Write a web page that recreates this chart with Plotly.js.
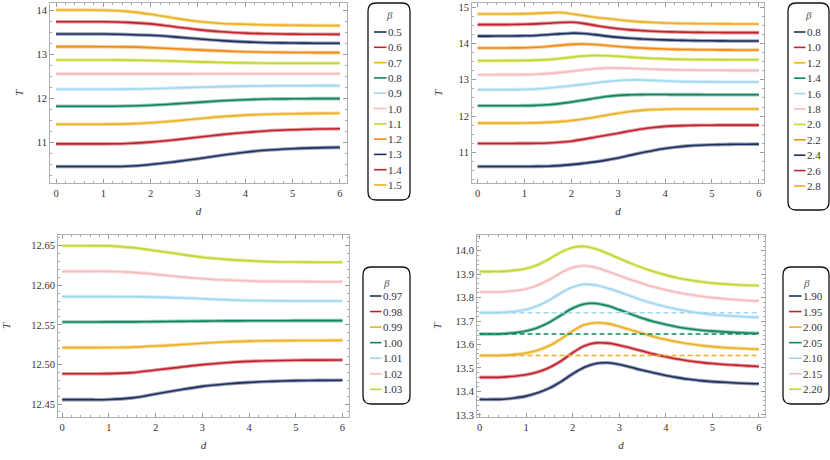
<!DOCTYPE html>
<html>
<head>
<meta charset="utf-8">
<script src="https://cdn.plot.ly/plotly-3.0.1.min.js"></script>
<style>
  html, body { margin: 0; padding: 0; background: #fff; }
  #chart { width: 830px; height: 460px; }
</style>
</head>
<body>
<div id="chart"></div>
<script>
// sample positions of d
const dCoarse = [0, 0.5, 1, 1.5, 2, 2.5, 3, 3.5, 4, 4.5, 5, 5.5, 6];
const dFine = [0, 0.25, 0.5, 0.75, 1, 1.25, 1.5, 1.75, 2, 2.25, 2.5, 2.75, 3,
               3.25, 3.5, 3.75, 4, 4.25, 4.5, 4.75, 5, 5.25, 5.5, 5.75, 6];

// panel 1 (top left)
const betaA = ['0.5', '0.6', '0.7', '0.8', '0.9', '1.0', '1.1', '1.2', '1.3', '1.4', '1.5'];
const TA = [
    [10.455, 10.455, 10.455, 10.46, 10.50, 10.56, 10.63, 10.71, 10.78, 10.83, 10.86, 10.88, 10.89],
    [10.97, 10.97, 10.97, 10.98, 11.01, 11.06, 11.12, 11.18, 11.23, 11.27, 11.29, 11.31, 11.315],
    [11.417, 11.417, 11.418, 11.425, 11.45, 11.49, 11.54, 11.59, 11.625, 11.645, 11.655, 11.663, 11.667],
    [11.826, 11.826, 11.827, 11.832, 11.85, 11.88, 11.915, 11.95, 11.975, 11.99, 11.995, 11.999, 12.0],
    [12.212, 12.212, 12.213, 12.216, 12.225, 12.24, 12.258, 12.272, 12.283, 12.29, 12.293, 12.295, 12.296],
    [12.562, 12.562, 12.562, 12.562, 12.563, 12.563, 12.564, 12.564, 12.565, 12.565, 12.565, 12.565, 12.565],
    [12.879, 12.879, 12.878, 12.875, 12.866, 12.852, 12.836, 12.822, 12.812, 12.806, 12.804, 12.803, 12.803],
    [13.182, 13.182, 13.181, 13.176, 13.16, 13.135, 13.108, 13.085, 13.066, 13.055, 13.05, 13.047, 13.046],
    [13.47, 13.47, 13.469, 13.46, 13.44, 13.405, 13.36, 13.32, 13.29, 13.272, 13.264, 13.26, 13.258],
    [13.75, 13.75, 13.748, 13.735, 13.70, 13.635, 13.57, 13.52, 13.49, 13.475, 13.467, 13.463, 13.462],
    [14.015, 14.015, 14.01, 13.985, 13.92, 13.83, 13.755, 13.71, 13.69, 13.675, 13.668, 13.663, 13.66]
];

// panel 2 (top right)
const betaB = ['0.8', '1.0', '1.2', '1.4', '1.6', '1.8', '2.0', '2.2', '2.4', '2.6', '2.8'];
const TB = [
    [10.615, 10.615, 10.615, 10.615, 10.615, 10.617, 10.622, 10.638, 10.665, 10.70, 10.74, 10.79, 10.85,
     10.92, 10.99, 11.055, 11.11, 11.15, 11.18, 11.198, 11.21, 11.218, 11.224, 11.227, 11.229],
    [11.248, 11.248, 11.248, 11.248, 11.249, 11.252, 11.26, 11.28, 11.31, 11.36, 11.42, 11.475, 11.53,
     11.59, 11.645, 11.685, 11.716, 11.732, 11.742, 11.747, 11.75, 11.751, 11.752, 11.752, 11.752],
    [11.807, 11.807, 11.807, 11.807, 11.808, 11.813, 11.826, 11.848, 11.88, 11.922, 11.97, 12.025, 12.08,
     12.125, 12.158, 12.18, 12.19, 12.194, 12.195, 12.195, 12.194, 12.194, 12.193, 12.193, 12.193],
    [12.284, 12.284, 12.284, 12.285, 12.287, 12.295, 12.31, 12.342, 12.385, 12.436, 12.49, 12.537, 12.57,
     12.585, 12.591, 12.593, 12.592, 12.591, 12.59, 12.589, 12.588, 12.588, 12.587, 12.587, 12.587],
    [12.725, 12.725, 12.726, 12.727, 12.731, 12.745, 12.77, 12.80, 12.835, 12.872, 12.91, 12.948, 12.978,
     12.993, 12.994, 12.982, 12.965, 12.953, 12.946, 12.942, 12.94, 12.938, 12.937, 12.936, 12.936],
    [13.138, 13.138, 13.139, 13.14, 13.144, 13.152, 13.168, 13.195, 13.23, 13.268, 13.30, 13.318, 13.32,
     13.313, 13.302, 13.29, 13.279, 13.271, 13.266, 13.262, 13.26, 13.259, 13.258, 13.257, 13.257],
    [13.523, 13.523, 13.524, 13.526, 13.53, 13.538, 13.553, 13.582, 13.62, 13.652, 13.665, 13.66, 13.645,
     13.622, 13.602, 13.585, 13.573, 13.564, 13.558, 13.555, 13.552, 13.551, 13.55, 13.55, 13.55],
    [13.872, 13.872, 13.873, 13.875, 13.88, 13.893, 13.915, 13.946, 13.972, 13.982, 13.968, 13.943, 13.915,
     13.89, 13.871, 13.856, 13.845, 13.836, 13.83, 13.826, 13.823, 13.821, 13.819, 13.818, 13.817],
    [14.20, 14.20, 14.201, 14.203, 14.208, 14.218, 14.236, 14.262, 14.28, 14.272, 14.24, 14.20, 14.166,
     14.14, 14.122, 14.107, 14.095, 14.085, 14.078, 14.073, 14.07, 14.068, 14.066, 14.065, 14.064],
    [14.514, 14.514, 14.515, 14.518, 14.525, 14.536, 14.552, 14.572, 14.58, 14.55, 14.495, 14.442, 14.40,
     14.37, 14.35, 14.333, 14.32, 14.311, 14.305, 14.301, 14.298, 14.296, 14.295, 14.294, 14.294],
    [14.807, 14.807, 14.808, 14.81, 14.815, 14.825, 14.838, 14.85, 14.815, 14.765, 14.72, 14.682, 14.65,
     14.615, 14.59, 14.572, 14.56, 14.551, 14.545, 14.541, 14.538, 14.536, 14.534, 14.533, 14.532]
];

// panel 3 (bottom left)
const betaC = ['0.97', '0.98', '0.99', '1.00', '1.01', '1.02', '1.03'];
const TC = [
    [12.4555, 12.4555, 12.4557, 12.4578, 12.4626, 12.4677, 12.4723, 12.4753, 12.4774, 12.4786, 12.4795, 12.4799, 12.4800],
    [12.4883, 12.4883, 12.4884, 12.4896, 12.4930, 12.4963, 12.4997, 12.5022, 12.5039, 12.5047, 12.5052, 12.5055, 12.5056],
    [12.5212, 12.5212, 12.5213, 12.5219, 12.5232, 12.5249, 12.5268, 12.5283, 12.5294, 12.5299, 12.5302, 12.5303, 12.5304],
    [12.5536, 12.5536, 12.5537, 12.5538, 12.5541, 12.5544, 12.5547, 12.5550, 12.5551, 12.5552, 12.5553, 12.5553, 12.5553],
    [12.5856, 12.5856, 12.5856, 12.5855, 12.5850, 12.5841, 12.5830, 12.5817, 12.5808, 12.5804, 12.5802, 12.5801, 12.5801],
    [12.6176, 12.6176, 12.6175, 12.6163, 12.6138, 12.6108, 12.6083, 12.6066, 12.6054, 12.6049, 12.6047, 12.6045, 12.6045],
    [12.6500, 12.6500, 12.6497, 12.6475, 12.6437, 12.6395, 12.6353, 12.6327, 12.6310, 12.6298, 12.6293, 12.6291, 12.6290]
];

// panel 4 (bottom right)
const betaD = ['1.90', '1.95', '2.00', '2.05', '2.10', '2.15', '2.20'];
const TD = [
    [13.366, 13.366, 13.367, 13.372, 13.38, 13.394, 13.414, 13.442, 13.475, 13.503, 13.519, 13.522, 13.515,
     13.503, 13.49, 13.479, 13.468, 13.459, 13.452, 13.446, 13.442, 13.439, 13.436, 13.434, 13.433],
    [13.46, 13.46, 13.461, 13.465, 13.471, 13.483, 13.502, 13.53, 13.565, 13.594, 13.607, 13.606, 13.597,
     13.585, 13.572, 13.559, 13.548, 13.538, 13.53, 13.524, 13.519, 13.515, 13.512, 13.509, 13.506],
    [13.553, 13.553, 13.554, 13.557, 13.564, 13.576, 13.595, 13.624, 13.658, 13.684, 13.693, 13.689, 13.677,
     13.662, 13.647, 13.633, 13.621, 13.611, 13.603, 13.596, 13.591, 13.587, 13.584, 13.582, 13.58],
    [13.645, 13.645, 13.646, 13.65, 13.658, 13.672, 13.695, 13.725, 13.755, 13.773, 13.775, 13.765, 13.748,
     13.73, 13.712, 13.697, 13.685, 13.675, 13.667, 13.661, 13.657, 13.654, 13.651, 13.649, 13.648],
    [13.736, 13.736, 13.737, 13.741, 13.749, 13.765, 13.79, 13.82, 13.845, 13.857, 13.853, 13.84, 13.824,
     13.806, 13.789, 13.774, 13.761, 13.75, 13.741, 13.734, 13.728, 13.724, 13.721, 13.718, 13.716],
    [13.824, 13.824, 13.825, 13.829, 13.837, 13.853, 13.877, 13.906, 13.928, 13.936, 13.928, 13.912, 13.894,
     13.876, 13.86, 13.845, 13.833, 13.822, 13.813, 13.806, 13.80, 13.795, 13.791, 13.788, 13.786],
    [13.911, 13.911, 13.912, 13.916, 13.924, 13.94, 13.965, 13.994, 14.014, 14.018, 14.007, 13.988, 13.967,
     13.946, 13.927, 13.91, 13.896, 13.884, 13.875, 13.868, 13.862, 13.858, 13.855, 13.853, 13.852]
];
// dashed reference levels in panel 4 (beta 2.00, 2.05, 2.10)
const dashX = [0, 6];
const dashLevels = [13.553, 13.645, 13.736];
const dashColorIdx = [2, 3, 4];

const palette = ['#1f2f5e', '#c0232f', '#ebb023', '#128560', '#a3d6ef', '#f5bcbc', '#c3d630', '#f28a14'];

const W = 830, H = 460;
const px = p => p / W;
const py = p => 1 - p / H;
const FONT = 'Liberation Serif, DejaVu Serif, serif';

// pixel boxes for plots and legends
const panels = [
    { betas: betaA, d: dCoarse, T: TA, plot: [50, 3, 347, 183], xr: [-0.127, 6.15], yr: [10.08, 14.175], ydt: 1, ymin: 0.25, ystand: 10,
      leg: { box: [368, 3, 410, 200], title: 15, y0: 32, step: 15.3, lx0: 374, lx1: 386.5 } },
    { betas: betaB, d: dFine, T: TB, plot: [472, 3, 764, 183], xr: [-0.12, 6.11], yr: [10.16, 15.11], ydt: 1, ymin: 0.25, ystand: 13,
      leg: { box: [788, 3, 829, 210], title: 15, y0: 32, step: 15.4, lx0: 794, lx1: 805.5 } },
    { betas: betaC, d: dCoarse, T: TC, plot: [58, 235, 349, 417], xr: [-0.09, 6.14], yr: [12.4336, 12.6635], ydt: 0.05, ymin: 0.01, ystand: 18,
      leg: { box: [363, 267, 410, 404], title: 283, y0: 296, step: 15.55, lx0: 370, lx1: 381.5 } },
    { betas: betaD, d: dFine, T: TD, plot: [477, 235, 765, 417], xr: [-0.055, 6.13], yr: [13.291, 14.067], ydt: 0.1, ymin: 0.02, ystand: 11,
      leg: { box: [783, 267, 829, 404], title: 283, y0: 296, step: 15.55, lx0: 789, lx1: 801.5 } }
];

function fade(hex, a) {
    const n = parseInt(hex.slice(1), 16);
    const r = n >> 16, g = (n >> 8) & 255, b = n & 255;
    return 'rgba(' + r + ',' + g + ',' + b + ',' + a + ')';
}

function roundedBox(b, r) {
    const [x0, y0, x1, y1] = b;
    const P = (x, y) => px(x) + ',' + py(y);
    return 'M' + P(x0 + r, y0) + ' L' + P(x1 - r, y0) + ' Q' + P(x1, y0) + ' ' + P(x1, y0 + r) +
        ' L' + P(x1, y1 - r) + ' Q' + P(x1, y1) + ' ' + P(x1 - r, y1) +
        ' L' + P(x0 + r, y1) + ' Q' + P(x0, y1) + ' ' + P(x0, y1 - r) +
        ' L' + P(x0, y0 + r) + ' Q' + P(x0, y0) + ' ' + P(x0 + r, y0) + ' Z';
}

const traces = [];
const shapes = [];
const annotations = [];
const layout = {
    width: W, height: H,
    margin: { l: 0, r: 0, t: 0, b: 0 },
    paper_bgcolor: '#fff', plot_bgcolor: '#fff',
    showlegend: false,
    font: { family: FONT, color: '#333', size: 11 }
};

panels.forEach((p, k) => {
    const sfx = k === 0 ? '' : String(k + 1);
    const xa = 'x' + sfx, ya = 'y' + sfx;
    p.T.forEach((vals, i) => {
        const c = palette[i % palette.length];
        // pale halo under the line, like the sampled points in the original
        traces.push({ type: 'scatter', mode: 'lines', x: p.d, y: vals, xaxis: xa, yaxis: ya,
            line: { color: fade(c, 0.45), width: 3.6, shape: 'spline', smoothing: 1 }, hoverinfo: 'skip' });
        traces.push({ type: 'scatter', mode: 'lines', x: p.d, y: vals, xaxis: xa, yaxis: ya,
            line: { color: c, width: 1.6, shape: 'spline', smoothing: 1 }, name: p.betas[i] });
    });
    if (k === 3) {
        dashLevels.forEach((lv, j) => {
            traces.push({ type: 'scatter', mode: 'lines', x: dashX, y: [lv, lv], xaxis: xa, yaxis: ya,
                line: { color: palette[dashColorIdx[j]], width: 1.5, dash: '5px,3px' }, hoverinfo: 'skip' });
        });
    }
    const [l, t, r, b] = p.plot;
    const common = {
        showline: true, mirror: 'allticks', linecolor: '#b0b0b0', linewidth: 1,
        ticks: 'inside', ticklen: 4, tickcolor: '#9a9a9a', tickwidth: 1,
        showgrid: false, zeroline: false,
        tickfont: { family: FONT, size: 10.5, color: '#333' }
    };
    layout['xaxis' + sfx] = Object.assign({}, common, {
        domain: [px(l), px(r)], anchor: ya, range: p.xr, tick0: 0, dtick: 1,
        minor: { dtick: 0.2, ticks: 'inside', ticklen: 2, tickcolor: '#aaa', showgrid: false },
        title: { text: '<i>d</i>', font: { family: FONT, size: 11, color: '#333' }, standoff: 9 }
    });
    layout['yaxis' + sfx] = Object.assign({}, common, {
        domain: [py(b), py(t)], anchor: xa, range: p.yr, dtick: p.ydt,
        minor: { dtick: p.ymin, ticks: 'inside', ticklen: 2, tickcolor: '#aaa', showgrid: false },
        title: { text: '<i>T</i>', font: { family: FONT, size: 11, color: '#333' }, standoff: p.ystand }
    });
    if (k === 2) layout['yaxis' + sfx].tickformat = '.2f';
    if (k === 3) layout['yaxis' + sfx].tickformat = '.1f';

    // legend box
    const g = p.leg;
    shapes.push({ type: 'path', xref: 'paper', yref: 'paper', path: roundedBox(g.box, 8),
        line: { color: '#111', width: 1.3 }, fillcolor: 'rgba(0,0,0,0)' });
    annotations.push({ xref: 'paper', yref: 'paper', x: px((g.box[0] + g.box[2]) / 2), y: py(g.title),
        text: '<i>β</i>', showarrow: false, xanchor: 'center', yanchor: 'middle',
        font: { family: FONT, size: 11, color: '#555' } });
    p.betas.forEach((bt, i) => {
        const yy = g.y0 + i * g.step;
        shapes.push({ type: 'line', xref: 'paper', yref: 'paper', x0: px(g.lx0), x1: px(g.lx1), y0: py(yy), y1: py(yy),
            line: { color: palette[i % palette.length], width: 1.6 } });
        annotations.push({ xref: 'paper', yref: 'paper', x: px(g.lx1), y: py(yy), text: bt,
            showarrow: false, xanchor: 'left', yanchor: 'middle', xshift: -1,
            font: { family: FONT, size: 11, color: '#333' } });
    });
});

layout.shapes = shapes;
layout.annotations = annotations;

Plotly.newPlot('chart', traces, layout, { displayModeBar: false, staticPlot: true });
</script>
</body>
</html>
